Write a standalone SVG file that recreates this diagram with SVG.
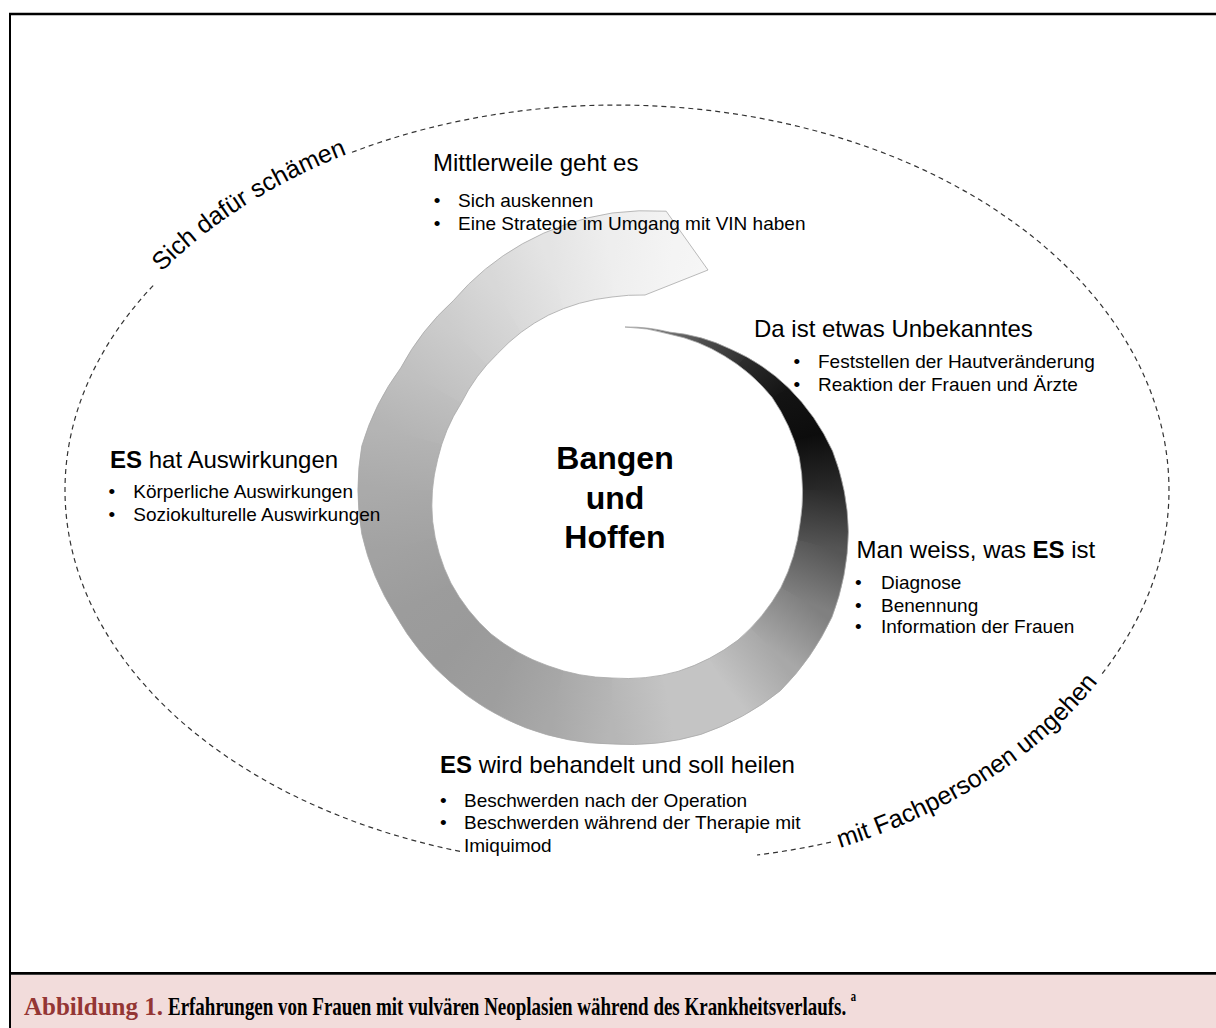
<svg xmlns="http://www.w3.org/2000/svg" width="1216" height="1028" viewBox="0 0 1216 1028">
  <style>
    .sans { font-family: 'Liberation Sans', Arial, sans-serif; fill: #000; }
    .head { font-size: 24px; }
    .item { font-size: 19px; }
    .core { font-size: 32px; font-weight: bold; text-anchor: middle; }
    .arc { font-size: 25px; }
    .dash { fill: none; stroke: #333; stroke-width: 1.2; stroke-dasharray: 5 4; }
    .wedge { shape-rendering: crispEdges; }
    .cap { font-family: 'Liberation Serif', 'Times New Roman', serif; font-weight: bold; }
  </style>
  <defs>
    <!-- band outline of the spiral: outer edge clockwise, arrow end, inner edge back to the tip -->
    <path id="bandShape" d="M 625 327
      A 166 166 0 0 1 669.5 332.1
      A 176 176 0 0 1 730.3 349
      A 194 194 0 0 1 788.7 388
      A 214 214 0 0 1 832.6 451.1
      A 232 232 0 0 1 848.4 531.7
      A 247 247 0 0 1 832 617
      A 258 258 0 0 1 780.4 690.7
      A 261 261 0 0 1 700.9 734.4
      A 257 257 0 0 1 612 744
      A 253 253 0 0 1 525.5 727.7
      A 252 252 0 0 1 450.6 682.3
      A 250 250 0 0 1 395.5 615
      A 252 252 0 0 1 361.8 534.1
      A 254 254 0 0 1 361.8 445.9
      A 249 249 0 0 1 400.7 368
      A 245 245 0 0 1 453.2 300.8
      A 254 254 0 0 1 522.4 243.8
      A 270 270 0 0 1 612 213
      A 280 280 0 0 1 666.2 211.2
      L 708 270
      L 645 295
      A 195 195 0 0 0 612 297
      A 190 190 0 0 0 548.4 315.2
      A 182 182 0 0 0 497.5 353.7
      A 176 176 0 0 0 461.3 403
      A 175 175 0 0 0 437.7 459.2
      A 180 180 0 0 0 432.7 521.7
      A 184 184 0 0 0 450.9 583
      A 187 187 0 0 0 491.1 634
      A 188 188 0 0 0 548 665.8
      A 188 188 0 0 0 612 678
      A 190 190 0 0 0 678 671.4
      A 195 195 0 0 0 738 640.1
      A 196 196 0 0 0 780.9 587.5
      A 193 193 0 0 0 800.1 523.2
      A 190 190 0 0 0 799.2 456.9
      A 188 188 0 0 0 772.2 397.5
      A 180 180 0 0 0 724.5 356
      A 170 170 0 0 0 668.8 334
      A 165 165 0 0 0 625 327 Z"/>
    <clipPath id="bandClip"><use href="#bandShape"/></clipPath>

    <!-- sweep shading: one linear ramp per 15 degree sector -->
    <linearGradient id="gT" gradientUnits="userSpaceOnUse" x1="626.8" y1="320.6" x2="697" y2="342.8"><stop offset="0" stop-color="#8c8c8c"/><stop offset="1" stop-color="#555"/></linearGradient>
    <linearGradient id="g1" gradientUnits="userSpaceOnUse" x1="723" y1="297.7" x2="769" y2="333"><stop offset="0" stop-color="#555"/><stop offset="1" stop-color="#2e2e2e"/></linearGradient>
    <linearGradient id="g2" gradientUnits="userSpaceOnUse" x1="769" y1="333" x2="804.3" y2="379"><stop offset="0" stop-color="#2e2e2e"/><stop offset="1" stop-color="#141414"/></linearGradient>
    <linearGradient id="g3" gradientUnits="userSpaceOnUse" x1="804.3" y1="379" x2="826.4" y2="432.5"><stop offset="0" stop-color="#141414"/><stop offset="1" stop-color="#0c0c0c"/></linearGradient>
    <linearGradient id="g4" gradientUnits="userSpaceOnUse" x1="826.4" y1="432.5" x2="834" y2="490"><stop offset="0" stop-color="#0c0c0c"/><stop offset="1" stop-color="#2a2a2a"/></linearGradient>
    <linearGradient id="g5" gradientUnits="userSpaceOnUse" x1="834" y1="490" x2="826.4" y2="547.5"><stop offset="0" stop-color="#2a2a2a"/><stop offset="1" stop-color="#555"/></linearGradient>
    <linearGradient id="g6" gradientUnits="userSpaceOnUse" x1="826.4" y1="547.5" x2="804.3" y2="601"><stop offset="0" stop-color="#555"/><stop offset="1" stop-color="#808080"/></linearGradient>
    <linearGradient id="g7" gradientUnits="userSpaceOnUse" x1="804.3" y1="601" x2="769" y2="647"><stop offset="0" stop-color="#808080"/><stop offset="1" stop-color="#a8a8a8"/></linearGradient>
    <linearGradient id="g8" gradientUnits="userSpaceOnUse" x1="769" y1="647" x2="723" y2="682.3"><stop offset="0" stop-color="#a8a8a8"/><stop offset="1" stop-color="#c4c4c4"/></linearGradient>
    <linearGradient id="g9" gradientUnits="userSpaceOnUse" x1="723" y1="682.3" x2="669.5" y2="704.4"><stop offset="0" stop-color="#c4c4c4"/><stop offset="1" stop-color="#c4c4c4"/></linearGradient>
    <linearGradient id="g10" gradientUnits="userSpaceOnUse" x1="669.5" y1="704.4" x2="612" y2="712"><stop offset="0" stop-color="#c4c4c4"/><stop offset="1" stop-color="#b6b6b6"/></linearGradient>
    <linearGradient id="g11" gradientUnits="userSpaceOnUse" x1="612" y1="712" x2="554.5" y2="704.4"><stop offset="0" stop-color="#b6b6b6"/><stop offset="1" stop-color="#a8a8a8"/></linearGradient>
    <linearGradient id="g12" gradientUnits="userSpaceOnUse" x1="554.5" y1="704.4" x2="501" y2="682.3"><stop offset="0" stop-color="#a8a8a8"/><stop offset="1" stop-color="#9e9e9e"/></linearGradient>
    <linearGradient id="g13" gradientUnits="userSpaceOnUse" x1="501" y1="682.3" x2="455" y2="647"><stop offset="0" stop-color="#9e9e9e"/><stop offset="1" stop-color="#9a9a9a"/></linearGradient>
    <linearGradient id="g14" gradientUnits="userSpaceOnUse" x1="455" y1="647" x2="419.7" y2="601"><stop offset="0" stop-color="#9a9a9a"/><stop offset="1" stop-color="#9c9c9c"/></linearGradient>
    <linearGradient id="g15" gradientUnits="userSpaceOnUse" x1="419.7" y1="601" x2="397.6" y2="547.5"><stop offset="0" stop-color="#9c9c9c"/><stop offset="1" stop-color="#a2a2a2"/></linearGradient>
    <linearGradient id="g16" gradientUnits="userSpaceOnUse" x1="397.6" y1="547.5" x2="390" y2="490"><stop offset="0" stop-color="#a2a2a2"/><stop offset="1" stop-color="#aaa"/></linearGradient>
    <linearGradient id="g17" gradientUnits="userSpaceOnUse" x1="390" y1="490" x2="397.6" y2="432.5"><stop offset="0" stop-color="#aaa"/><stop offset="1" stop-color="#b4b4b4"/></linearGradient>
    <linearGradient id="g18" gradientUnits="userSpaceOnUse" x1="397.6" y1="432.5" x2="419.7" y2="379"><stop offset="0" stop-color="#b4b4b4"/><stop offset="1" stop-color="#c0c0c0"/></linearGradient>
    <linearGradient id="g19" gradientUnits="userSpaceOnUse" x1="419.7" y1="379" x2="455" y2="333"><stop offset="0" stop-color="#c0c0c0"/><stop offset="1" stop-color="#ccc"/></linearGradient>
    <linearGradient id="g20" gradientUnits="userSpaceOnUse" x1="455" y1="333" x2="501" y2="297.7"><stop offset="0" stop-color="#ccc"/><stop offset="1" stop-color="#d8d8d8"/></linearGradient>
    <linearGradient id="g21" gradientUnits="userSpaceOnUse" x1="501" y1="297.7" x2="554.5" y2="275.6"><stop offset="0" stop-color="#d8d8d8"/><stop offset="1" stop-color="#e4e4e4"/></linearGradient>
    <linearGradient id="gE1" gradientUnits="userSpaceOnUse" x1="554.5" y1="275.6" x2="612" y2="268"><stop offset="0" stop-color="#e4e4e4"/><stop offset="1" stop-color="#eee"/></linearGradient>
    <linearGradient id="gE2" gradientUnits="userSpaceOnUse" x1="612" y1="268" x2="669.5" y2="275.6"><stop offset="0" stop-color="#eee"/><stop offset="1" stop-color="#f4f4f4"/></linearGradient>
    <linearGradient id="gE3" gradientUnits="userSpaceOnUse" x1="669.5" y1="275.6" x2="723" y2="297.7"><stop offset="0" stop-color="#f4f4f4"/><stop offset="1" stop-color="#f8f8f8"/></linearGradient>

    <!-- baselines for the two labels written along the dashed oval -->
    <path id="arcUpperLeft" d="M 162 272 A 552 385 0 0 1 372 145"/>
    <path id="arcLowerRight" d="M 840 848 A 557 377 0 0 0 1120 650"/>
  </defs>

  <rect width="1216" height="1028" fill="#fff"/>

  <!-- frame and caption strip -->
  <g id="frame">
    <rect x="10" y="975" width="1206" height="53" fill="#f2dcdb"/>
    <line x1="9" y1="14" x2="1216" y2="14" stroke="#000" stroke-width="2.7"/>
    <line x1="10" y1="13" x2="10" y2="1028" stroke="#000" stroke-width="2"/>
    <line x1="9" y1="973.4" x2="1216" y2="973.4" stroke="#000" stroke-width="2.7"/>
  </g>

  <!-- dashed oval around the whole process, open where the labels and the lower text block sit -->
  <g id="boundary">
    <path class="dash" d="M 352 152.3 A 552 385 0 0 1 1100 676.4"/>
    <path class="dash" d="M 831 842.1 A 552 382 0 0 1 757 855"/>
    <path class="dash" d="M 460 851.4 A 552 377 0 0 1 154 284.7"/>
  </g>

  <g id="label-schaemen">
    <text class="sans arc"><textPath href="#arcUpperLeft">Sich dafür schämen</textPath></text>
  </g>
  <g id="label-fachpersonen">
    <text class="sans arc"><textPath href="#arcLowerRight">mit Fachpersonen umgehen</textPath></text>
  </g>

  <!-- shaded spiral band -->
  <g id="spiral">
    <g clip-path="url(#bandClip)">
      <polygon class="wedge" fill="url(#gT)" points="612,490 612,304 660.1,310.3 705,328.9"/>
      <polygon class="wedge" fill="url(#g1)" points="612,490 782,195.6 852.4,249.6"/>
      <polygon class="wedge" fill="url(#g2)" points="612,490 852.4,249.6 906.4,320"/>
      <polygon class="wedge" fill="url(#g3)" points="612,490 906.4,320 940.4,402"/>
      <polygon class="wedge" fill="url(#g4)" points="612,490 940.4,402 952,490"/>
      <polygon class="wedge" fill="url(#g5)" points="612,490 952,490 940.4,578"/>
      <polygon class="wedge" fill="url(#g6)" points="612,490 940.4,578 906.4,660"/>
      <polygon class="wedge" fill="url(#g7)" points="612,490 906.4,660 852.4,730.4"/>
      <polygon class="wedge" fill="url(#g8)" points="612,490 852.4,730.4 782,784.4"/>
      <polygon class="wedge" fill="url(#g9)" points="612,490 782,784.4 700,818.4"/>
      <polygon class="wedge" fill="url(#g10)" points="612,490 700,818.4 612,830"/>
      <polygon class="wedge" fill="url(#g11)" points="612,490 612,830 524,818.4"/>
      <polygon class="wedge" fill="url(#g12)" points="612,490 524,818.4 442,784.4"/>
      <polygon class="wedge" fill="url(#g13)" points="612,490 442,784.4 371.6,730.4"/>
      <polygon class="wedge" fill="url(#g14)" points="612,490 371.6,730.4 317.6,660"/>
      <polygon class="wedge" fill="url(#g15)" points="612,490 317.6,660 283.6,578"/>
      <polygon class="wedge" fill="url(#g16)" points="612,490 283.6,578 272,490"/>
      <polygon class="wedge" fill="url(#g17)" points="612,490 272,490 283.6,402"/>
      <polygon class="wedge" fill="url(#g18)" points="612,490 283.6,402 317.6,320"/>
      <polygon class="wedge" fill="url(#g19)" points="612,490 317.6,320 371.6,249.6"/>
      <polygon class="wedge" fill="url(#g20)" points="612,490 371.6,249.6 442,195.6"/>
      <polygon class="wedge" fill="url(#g21)" points="612,490 442,195.6 524,161.6"/>
      <polygon class="wedge" fill="url(#gE1)" points="564.6,313.2 524,161.6 612,150 612,307"/>
      <polygon class="wedge" fill="url(#gE2)" points="612,307 612,150 700,161.6 659.4,313.2"/>
      <polygon class="wedge" fill="url(#gE3)" points="659.4,313.2 700,161.6 782,195.6 703.5,331.5"/>
    </g>
    <use href="#bandShape" fill="none" stroke="#a8a8a8" stroke-width="0.8"/>
  </g>

  <g id="core">
    <text class="sans core" x="615" y="469">Bangen</text>
    <text class="sans core" x="615" y="508.5">und</text>
    <text class="sans core" x="615" y="548">Hoffen</text>
  </g>

  <g id="phase-mittlerweile">
    <text class="sans head" x="433" y="171">Mittlerweile geht es</text>
    <text class="sans item" x="433.7" y="207">•</text>
    <text class="sans item" x="458" y="207">Sich auskennen</text>
    <text class="sans item" x="433.7" y="229.5">•</text>
    <text class="sans item" x="458" y="229.5">Eine Strategie im Umgang mit VIN haben</text>
  </g>

  <g id="phase-unbekanntes">
    <text class="sans head" x="754" y="337">Da ist etwas Unbekanntes</text>
    <text class="sans item" x="793.5" y="368.3">•</text>
    <text class="sans item" x="818" y="368.3">Feststellen der Hautveränderung</text>
    <text class="sans item" x="793.5" y="390.7">•</text>
    <text class="sans item" x="818" y="390.7">Reaktion der Frauen und Ärzte</text>
  </g>

  <g id="phase-diagnose">
    <text class="sans head" x="856.5" y="558.3">Man weiss, was <tspan font-weight="bold">ES</tspan> ist</text>
    <text class="sans item" x="855" y="589.3">•</text>
    <text class="sans item" x="881" y="589.3">Diagnose</text>
    <text class="sans item" x="855" y="611.7">•</text>
    <text class="sans item" x="881" y="611.7">Benennung</text>
    <text class="sans item" x="855" y="633.3">•</text>
    <text class="sans item" x="881" y="633.3">Information der Frauen</text>
  </g>

  <g id="phase-behandlung">
    <text class="sans head" x="440" y="772.7"><tspan font-weight="bold">ES</tspan> wird behandelt und soll heilen</text>
    <text class="sans item" x="440" y="806.7">•</text>
    <text class="sans item" x="464" y="806.7">Beschwerden nach der Operation</text>
    <text class="sans item" x="440" y="829.3">•</text>
    <text class="sans item" x="464" y="829.3">Beschwerden während der Therapie mit</text>
    <text class="sans item" x="464" y="851.7">Imiquimod</text>
  </g>

  <g id="phase-auswirkungen">
    <text class="sans head" x="110" y="468.3"><tspan font-weight="bold">ES</tspan> hat Auswirkungen</text>
    <text class="sans item" x="108.4" y="498.3">•</text>
    <text class="sans item" x="133.3" y="498.3">Körperliche Auswirkungen</text>
    <text class="sans item" x="108.4" y="520.7">•</text>
    <text class="sans item" x="133.3" y="520.7">Soziokulturelle Auswirkungen</text>
  </g>

  <g id="caption">
    <text class="cap" x="24" y="1015" font-size="25" fill="#943634">Abbildung 1.</text>
    <text class="cap" x="168" y="1015" font-size="25" fill="#000" textLength="688" lengthAdjust="spacingAndGlyphs">Erfahrungen von Frauen mit vulvären Neoplasien während des Krankheitsverlaufs.<tspan dx="6" dy="-14" font-size="14">a</tspan></text>
  </g>
</svg>
